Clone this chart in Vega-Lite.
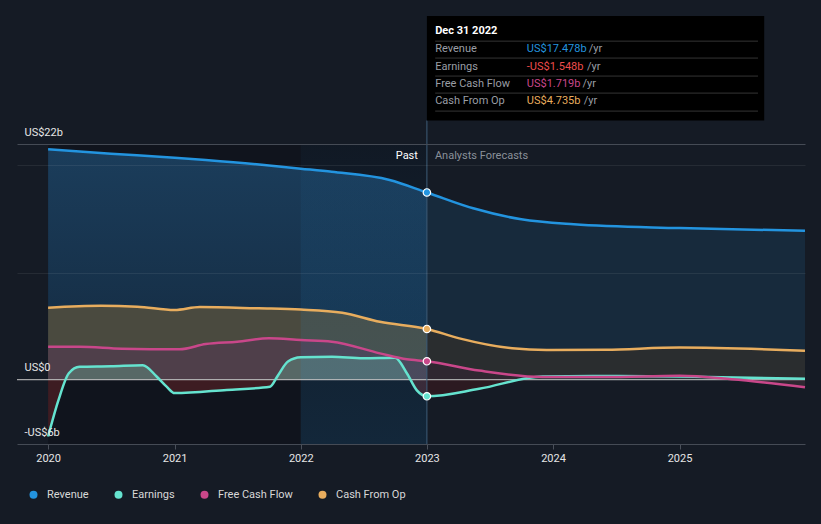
{
  "$schema": "https://vega.github.io/schema/vega-lite/v6.json",
  "width": 788,
  "height": 300,
  "autosize": {"type": "none"},
  "padding": {"left": 17, "top": 144, "right": 16, "bottom": 80},
  "background": "#151b25",
  "config": {"view": {"stroke": null}, "font": "Roboto", "text": {"font": "Roboto"}},
  "datasets": {
    "fin": [
      {"date": "2020-01-01", "series": "Revenue", "value": 21.5},
      {"date": "2020-07-01", "series": "Revenue", "value": 21.1},
      {"date": "2021-01-01", "series": "Revenue", "value": 20.72},
      {"date": "2021-04-01", "series": "Revenue", "value": 20.5},
      {"date": "2021-10-01", "series": "Revenue", "value": 20.0},
      {"date": "2022-01-01", "series": "Revenue", "value": 19.7},
      {"date": "2022-04-01", "series": "Revenue", "value": 19.4},
      {"date": "2022-09-15", "series": "Revenue", "value": 18.64},
      {"date": "2023-01-01", "series": "Revenue", "value": 17.478},
      {"date": "2023-05-15", "series": "Revenue", "value": 16.0},
      {"date": "2023-10-01", "series": "Revenue", "value": 14.97},
      {"date": "2024-03-01", "series": "Revenue", "value": 14.5},
      {"date": "2025-01-01", "series": "Revenue", "value": 14.15},
      {"date": "2025-12-30", "series": "Revenue", "value": 13.9},

      {"date": "2020-01-01", "series": "Earnings", "value": -5.3},
      {"date": "2020-01-31", "series": "Earnings", "value": -1.9},
      {"date": "2020-03-01", "series": "Earnings", "value": 0.6},
      {"date": "2020-04-01", "series": "Earnings", "value": 1.2},
      {"date": "2020-07-01", "series": "Earnings", "value": 1.25},
      {"date": "2020-10-01", "series": "Earnings", "value": 1.35},
      {"date": "2020-11-10", "series": "Earnings", "value": 0.3},
      {"date": "2020-12-09", "series": "Earnings", "value": -0.65},
      {"date": "2021-01-01", "series": "Earnings", "value": -1.25},
      {"date": "2021-06-01", "series": "Earnings", "value": -0.95},
      {"date": "2021-10-04", "series": "Earnings", "value": -0.65},
      {"date": "2021-10-27", "series": "Earnings", "value": 0.4},
      {"date": "2021-11-25", "series": "Earnings", "value": 1.7},
      {"date": "2022-01-01", "series": "Earnings", "value": 2.1},
      {"date": "2022-04-01", "series": "Earnings", "value": 2.15},
      {"date": "2022-07-01", "series": "Earnings", "value": 2.0},
      {"date": "2022-10-01", "series": "Earnings", "value": 2.05},
      {"date": "2022-11-04", "series": "Earnings", "value": 0.6},
      {"date": "2022-12-03", "series": "Earnings", "value": -1.0},
      {"date": "2023-01-01", "series": "Earnings", "value": -1.548},
      {"date": "2023-06-01", "series": "Earnings", "value": -0.85},
      {"date": "2023-12-01", "series": "Earnings", "value": 0.3},
      {"date": "2024-06-01", "series": "Earnings", "value": 0.35},
      {"date": "2025-01-01", "series": "Earnings", "value": 0.3},
      {"date": "2025-12-30", "series": "Earnings", "value": 0.1},

      {"date": "2020-01-01", "series": "Free Cash Flow", "value": 3.08},
      {"date": "2020-04-01", "series": "Free Cash Flow", "value": 3.08},
      {"date": "2020-08-01", "series": "Free Cash Flow", "value": 2.9},
      {"date": "2021-01-15", "series": "Free Cash Flow", "value": 2.84},
      {"date": "2021-04-01", "series": "Free Cash Flow", "value": 3.33},
      {"date": "2021-07-01", "series": "Free Cash Flow", "value": 3.55},
      {"date": "2021-10-01", "series": "Free Cash Flow", "value": 3.86},
      {"date": "2022-01-01", "series": "Free Cash Flow", "value": 3.7},
      {"date": "2022-04-01", "series": "Free Cash Flow", "value": 3.55},
      {"date": "2022-08-18", "series": "Free Cash Flow", "value": 2.46},
      {"date": "2022-11-04", "series": "Free Cash Flow", "value": 1.9},
      {"date": "2023-01-01", "series": "Free Cash Flow", "value": 1.719},
      {"date": "2023-06-01", "series": "Free Cash Flow", "value": 0.85},
      {"date": "2023-12-01", "series": "Free Cash Flow", "value": 0.25},
      {"date": "2024-06-01", "series": "Free Cash Flow", "value": 0.25},
      {"date": "2025-01-01", "series": "Free Cash Flow", "value": 0.37},
      {"date": "2025-06-01", "series": "Free Cash Flow", "value": 0.05},
      {"date": "2025-12-30", "series": "Free Cash Flow", "value": -0.7},

      {"date": "2020-01-01", "series": "Cash From Op", "value": 6.72},
      {"date": "2020-06-01", "series": "Cash From Op", "value": 6.9},
      {"date": "2020-09-15", "series": "Cash From Op", "value": 6.82},
      {"date": "2021-01-01", "series": "Cash From Op", "value": 6.5},
      {"date": "2021-03-15", "series": "Cash From Op", "value": 6.78},
      {"date": "2021-09-01", "series": "Cash From Op", "value": 6.66},
      {"date": "2022-01-01", "series": "Cash From Op", "value": 6.55},
      {"date": "2022-05-01", "series": "Cash From Op", "value": 6.25},
      {"date": "2022-08-18", "series": "Cash From Op", "value": 5.41},
      {"date": "2023-01-01", "series": "Cash From Op", "value": 4.735},
      {"date": "2023-04-05", "series": "Cash From Op", "value": 3.86},
      {"date": "2023-09-05", "series": "Cash From Op", "value": 2.93},
      {"date": "2023-12-13", "series": "Cash From Op", "value": 2.77},
      {"date": "2024-06-01", "series": "Cash From Op", "value": 2.8},
      {"date": "2025-01-01", "series": "Cash From Op", "value": 3.0},
      {"date": "2025-12-30", "series": "Cash From Op", "value": 2.7}
    ]
  },
  "data": {"name": "fin"},
  "encoding": {
    "x": {
      "field": "date",
      "type": "temporal",
      "scale": {
        "type": "utc",
        "domain": [
          {"year": 2019, "month": 10, "date": 3, "utc": true},
          {"year": 2025, "month": 12, "date": 30, "utc": true}
        ]
      },
      "axis": {
        "values": [
          {"year": 2020, "month": 1, "date": 1, "utc": true},
          {"year": 2021, "month": 1, "date": 1, "utc": true},
          {"year": 2022, "month": 1, "date": 1, "utc": true},
          {"year": 2023, "month": 1, "date": 1, "utc": true},
          {"year": 2024, "month": 1, "date": 1, "utc": true},
          {"year": 2025, "month": 1, "date": 1, "utc": true}
        ],
        "labelExpr": "utcFormat(datum.value, '%Y')",
        "title": null,
        "domain": false,
        "grid": false,
        "tickColor": "#4a505a",
        "tickSize": 5,
        "labelColor": "#e6e6e6",
        "labelFontSize": 11,
        "labelPadding": 3,
        "labelFlush": false
      }
    },
    "y": {
      "field": "value",
      "type": "quantitative",
      "scale": {"domain": [-6, 22], "nice": false, "zero": false},
      "axis": {
        "values": [-6, 0, 10, 20, 22],
        "labelExpr": "datum.value == 22 ? 'US$22b' : datum.value == 0 ? 'US$0' : datum.value == -6 ? '-US$6b' : ''",
        "title": null,
        "domain": false,
        "ticks": false,
        "labelAlign": "left",
        "labelBaseline": "middle",
        "labelOffset": -12,
        "labelPadding": -7,
        "labelColor": "#e6e6e6",
        "labelFontSize": 11,
        "labelFlush": false,
        "labelOverlap": false,
        "grid": true,
        "gridColor": {"condition": {"test": "datum.value == 10 || datum.value == 20", "value": "rgba(255,255,255,0.07)"}, "value": "#454b55"},
        "gridOpacity": {"condition": {"test": "datum.value == 0", "value": 0}, "value": 1},
        "zindex": 1
      }
    }
  },
  "layer": [
    {
      "transform": [{"filter": "datum.series === 'Revenue' && time(datum.date) === utc(2023,0,1)"}],
      "mark": {"type": "rect", "fill": "#0b0e13", "opacity": 0.45},
      "encoding": {
        "x": {"datum": {"year": 2020, "month": 1, "date": 1, "utc": true}, "type": "temporal"},
        "x2": {"datum": {"year": 2023, "month": 1, "date": 1, "utc": true}},
        "y": {"datum": -6, "type": "quantitative"},
        "y2": {"datum": 22}
      }
    },
    {
      "transform": [{"filter": "datum.series === 'Revenue' && time(datum.date) <= utc(2023,0,1)"}],
      "mark": {"type": "area", "interpolate": "monotone", "fill": {"gradient": "linear", "x1": 0, "y1": 0, "x2": 0, "y2": 1, "stops": [{"offset": 0, "color": "#1b3d5b"}, {"offset": 1, "color": "#142a40"}]}},
      "encoding": {"y2": {"datum": 0}}
    },
    {
      "transform": [{"filter": "datum.series === 'Revenue' && time(datum.date) >= utc(2023,0,1)"}],
      "mark": {"type": "area", "interpolate": "monotone", "fill": "#172a3c"},
      "encoding": {"y2": {"datum": 0}}
    },
    {
      "transform": [{"filter": "datum.series === 'Cash From Op' && time(datum.date) <= utc(2023,0,1)"}],
      "mark": {"type": "area", "interpolate": "monotone", "fill": "#4a4a3f"},
      "encoding": {"y2": {"datum": 0}}
    },
    {
      "transform": [{"filter": "datum.series === 'Cash From Op' && time(datum.date) >= utc(2023,0,1)"}],
      "mark": {"type": "area", "interpolate": "monotone", "fill": "#2a2d2f"},
      "encoding": {"y2": {"datum": 0}}
    },
    {
      "transform": [{"filter": "datum.series === 'Free Cash Flow' && time(datum.date) <= utc(2023,0,1)"}],
      "mark": {"type": "area", "interpolate": "monotone", "fill": "#4f3f4a"},
      "encoding": {"y2": {"datum": 0}}
    },
    {
      "transform": [{"filter": "datum.series === 'Free Cash Flow' && time(datum.date) >= utc(2023,0,1)"}],
      "mark": {"type": "area", "interpolate": "monotone", "fill": "#2f2731"},
      "encoding": {"y2": {"datum": 0}}
    },
    {
      "transform": [{"filter": "datum.series === 'Earnings' && time(datum.date) <= utc(2023,0,1)"}],
      "mark": {"type": "area", "interpolate": "monotone", "fill": {"gradient": "linear", "x1": 0, "y1": 0, "x2": 0, "y2": 1, "stops": [{"offset": 0, "color": "#576866"}, {"offset": 0.2886, "color": "#576866"}, {"offset": 0.2887, "color": "#3d1c22"}, {"offset": 1, "color": "#3d1c22"}]}},
      "encoding": {"y2": {"datum": 0}}
    },
    {
      "transform": [{"filter": "datum.series === 'Earnings' && time(datum.date) >= utc(2023,0,1)"}],
      "mark": {"type": "area", "interpolate": "monotone", "fill": {"gradient": "linear", "x1": 0, "y1": 0, "x2": 0, "y2": 1, "stops": [{"offset": 0, "color": "#243a3a"}, {"offset": 0.1844, "color": "#243a3a"}, {"offset": 0.1845, "color": "#2c1a21"}, {"offset": 1, "color": "#2c1a21"}]}},
      "encoding": {"y2": {"datum": 0}}
    },
    {
      "transform": [{"filter": "datum.series === 'Revenue' && time(datum.date) === utc(2023,0,1)"}],
      "mark": {"type": "rect", "fill": {"gradient": "linear", "x1": 0, "y1": 0, "x2": 0, "y2": 1, "stops": [{"offset": 0, "color": "rgba(35,148,223,0.04)"}, {"offset": 1, "color": "rgba(35,148,223,0.15)"}]}},
      "encoding": {
        "x": {"datum": {"year": 2022, "month": 1, "date": 1, "utc": true}, "type": "temporal"},
        "x2": {"datum": {"year": 2023, "month": 1, "date": 1, "utc": true}},
        "y": {"datum": -6, "type": "quantitative"},
        "y2": {"datum": 22}
      }
    },
    {
      "transform": [{"filter": "datum.series === 'Revenue' && time(datum.date) === utc(2023,0,1)"}],
      "mark": {"type": "rule", "color": "#c8c8c8", "strokeWidth": 1},
      "encoding": {
        "x": {"datum": {"year": 2019, "month": 10, "date": 3, "utc": true}, "type": "temporal"},
        "x2": {"datum": {"year": 2025, "month": 12, "date": 30, "utc": true}},
        "y": {"datum": 0, "type": "quantitative"}
      }
    },
    {
      "transform": [{"filter": "datum.series === 'Revenue' && time(datum.date) === utc(2023,0,1)"}],
      "mark": {"type": "rule", "color": "#3d5c78", "strokeWidth": 1},
      "encoding": {
        "x": {"datum": {"year": 2023, "month": 1, "date": 1, "utc": true}, "type": "temporal"},
        "y": {"datum": -6, "type": "quantitative"},
        "y2": {"datum": 24.2}
      }
    },
    {
      "mark": {"type": "line", "interpolate": "monotone", "strokeWidth": 2.5},
      "encoding": {
        "color": {
          "field": "series",
          "type": "nominal",
          "scale": {"domain": ["Revenue", "Earnings", "Free Cash Flow", "Cash From Op"], "range": ["#2394df", "#65e3cf", "#c9478a", "#e8ad5e"]},
          "legend": {
            "orient": "none",
            "legendX": 11,
            "legendY": 345,
            "direction": "horizontal",
            "title": null,
            "symbolType": "circle",
            "symbolSize": 64,
            "labelColor": "#d8d8d8",
            "labelFontSize": 11,
            "labelFont": "Roboto",
            "columnPadding": 24,
            "labelOffset": 8,
            "padding": 0,
            "encode": {"symbols": {"update": {"fill": {"scale": "color", "field": "value"}, "stroke": {"value": "transparent"}, "strokeWidth": {"value": 0}}}}
          }
        }
      }
    },
    {
      "transform": [{"filter": "time(datum.date) === utc(2023,0,1)"}],
      "mark": {"type": "point", "filled": true, "size": 55, "stroke": "#ffffff", "strokeWidth": 1.2, "opacity": 1},
      "encoding": {"color": {"field": "series", "type": "nominal", "legend": null}}
    },
    {
      "transform": [{"filter": "datum.series === 'Revenue' && time(datum.date) === utc(2023,0,1)"}],
      "mark": {"type": "text", "text": "Past", "align": "right", "baseline": "middle", "dx": -9, "fontSize": 11, "color": "#ffffff"},
      "encoding": {
        "x": {"datum": {"year": 2023, "month": 1, "date": 1, "utc": true}, "type": "temporal"},
        "y": {"datum": 20.88, "type": "quantitative"}
      }
    },
    {
      "transform": [{"filter": "datum.series === 'Revenue' && time(datum.date) === utc(2023,0,1)"}],
      "mark": {"type": "text", "text": "Analysts Forecasts", "align": "left", "baseline": "middle", "dx": 8, "fontSize": 11, "color": "#8a9099"},
      "encoding": {
        "x": {"datum": {"year": 2023, "month": 1, "date": 1, "utc": true}, "type": "temporal"},
        "y": {"datum": 20.88, "type": "quantitative"}
      }
    },
    {
      "transform": [{"filter": "datum.series === 'Revenue' && time(datum.date) === utc(2023,0,1)"}],
      "mark": {"type": "rect", "fill": "#000000"},
      "encoding": {
        "x": {"datum": {"year": 2023, "month": 1, "date": 1, "utc": true}, "type": "temporal"},
        "x2": {"datum": {"year": 2025, "month": 9, "date": 3, "utc": true}},
        "y": {"datum": 24.2, "type": "quantitative"},
        "y2": {"datum": 33.94}
      }
    },
    {
      "transform": [{"filter": "datum.series === 'Revenue' && time(datum.date) === utc(2023,0,1)"}],
      "encoding": {
        "x": {"datum": {"year": 2023, "month": 1, "date": 25, "utc": true}, "type": "temporal"},
        "x2": {"datum": {"year": 2025, "month": 8, "date": 16, "utc": true}}
      },
      "layer": [
        {"mark": {"type": "rule", "color": "#343434", "strokeWidth": 1}, "encoding": {"y": {"datum": 31.6, "type": "quantitative"}}},
        {"mark": {"type": "rule", "color": "#343434", "strokeWidth": 1}, "encoding": {"y": {"datum": 30.02, "type": "quantitative"}}},
        {"mark": {"type": "rule", "color": "#343434", "strokeWidth": 1}, "encoding": {"y": {"datum": 28.34, "type": "quantitative"}}},
        {"mark": {"type": "rule", "color": "#343434", "strokeWidth": 1}, "encoding": {"y": {"datum": 26.75, "type": "quantitative"}}},
        {"mark": {"type": "rule", "color": "#343434", "strokeWidth": 1}, "encoding": {"y": {"datum": 25.07, "type": "quantitative"}}}
      ]
    },
    {
      "transform": [{"filter": "datum.series === 'Revenue' && time(datum.date) === utc(2023,0,1)"}],
      "mark": {"type": "text", "text": "Dec 31 2022", "align": "left", "baseline": "middle", "fontSize": 11, "fontWeight": "bold", "color": "#ffffff"},
      "encoding": {
        "x": {"datum": {"year": 2023, "month": 1, "date": 25, "utc": true}, "type": "temporal"},
        "y": {"datum": 32.53, "type": "quantitative"}
      }
    },
    {
      "transform": [
        {"filter": "time(datum.date) === utc(2023,0,1)"},
        {"calculate": "(datum.value < 0 ? '-' : '') + 'US$' + format(abs(datum.value), '.3f') + 'b'", "as": "vtxt"}
      ],
      "layer": [
        {
          "transform": [{"filter": "datum.series === 'Revenue'"}],
          "encoding": {"y": {"datum": 30.83, "type": "quantitative"}},
          "layer": [
            {"mark": {"type": "text", "align": "left", "baseline": "middle", "fontSize": 11, "color": "#9a9ea5"}, "encoding": {"x": {"datum": {"year": 2023, "month": 1, "date": 25, "utc": true}, "type": "temporal"}, "text": {"field": "series"}}},
            {"mark": {"type": "text", "align": "left", "baseline": "middle", "fontSize": 11, "color": "#2394df"}, "encoding": {"x": {"datum": {"year": 2023, "month": 10, "date": 17, "utc": true}, "type": "temporal"}, "text": {"field": "vtxt"}}},
            {"mark": {"type": "text", "align": "left", "baseline": "middle", "fontSize": 11, "color": "#9a9ea5", "text": "/yr"}, "encoding": {"x": {"datum": {"year": 2024, "month": 4, "date": 13, "utc": true}, "type": "temporal"}}}
          ]
        },
        {
          "transform": [{"filter": "datum.series === 'Earnings'"}],
          "encoding": {"y": {"datum": 29.21, "type": "quantitative"}},
          "layer": [
            {"mark": {"type": "text", "align": "left", "baseline": "middle", "fontSize": 11, "color": "#9a9ea5"}, "encoding": {"x": {"datum": {"year": 2023, "month": 1, "date": 25, "utc": true}, "type": "temporal"}, "text": {"field": "series"}}},
            {"mark": {"type": "text", "align": "left", "baseline": "middle", "fontSize": 11, "color": "#ee4c4c"}, "encoding": {"x": {"datum": {"year": 2023, "month": 10, "date": 17, "utc": true}, "type": "temporal"}, "text": {"field": "vtxt"}}},
            {"mark": {"type": "text", "align": "left", "baseline": "middle", "fontSize": 11, "color": "#9a9ea5", "text": "/yr"}, "encoding": {"x": {"datum": {"year": 2024, "month": 4, "date": 8, "utc": true}, "type": "temporal"}}}
          ]
        },
        {
          "transform": [{"filter": "datum.series === 'Free Cash Flow'"}],
          "encoding": {"y": {"datum": 27.57, "type": "quantitative"}},
          "layer": [
            {"mark": {"type": "text", "align": "left", "baseline": "middle", "fontSize": 11, "color": "#9a9ea5"}, "encoding": {"x": {"datum": {"year": 2023, "month": 1, "date": 25, "utc": true}, "type": "temporal"}, "text": {"field": "series"}}},
            {"mark": {"type": "text", "align": "left", "baseline": "middle", "fontSize": 11, "color": "#c9478a"}, "encoding": {"x": {"datum": {"year": 2023, "month": 10, "date": 17, "utc": true}, "type": "temporal"}, "text": {"field": "vtxt"}}},
            {"mark": {"type": "text", "align": "left", "baseline": "middle", "fontSize": 11, "color": "#9a9ea5", "text": "/yr"}, "encoding": {"x": {"datum": {"year": 2024, "month": 3, "date": 26, "utc": true}, "type": "temporal"}}}
          ]
        },
        {
          "transform": [{"filter": "datum.series === 'Cash From Op'"}],
          "encoding": {"y": {"datum": 25.98, "type": "quantitative"}},
          "layer": [
            {"mark": {"type": "text", "align": "left", "baseline": "middle", "fontSize": 11, "color": "#9a9ea5"}, "encoding": {"x": {"datum": {"year": 2023, "month": 1, "date": 25, "utc": true}, "type": "temporal"}, "text": {"field": "series"}}},
            {"mark": {"type": "text", "align": "left", "baseline": "middle", "fontSize": 11, "color": "#e8ad5e"}, "encoding": {"x": {"datum": {"year": 2023, "month": 10, "date": 17, "utc": true}, "type": "temporal"}, "text": {"field": "vtxt"}}},
            {"mark": {"type": "text", "align": "left", "baseline": "middle", "fontSize": 11, "color": "#9a9ea5", "text": "/yr"}, "encoding": {"x": {"datum": {"year": 2024, "month": 3, "date": 30, "utc": true}, "type": "temporal"}}}
          ]
        }
      ]
    }
  ]
}
